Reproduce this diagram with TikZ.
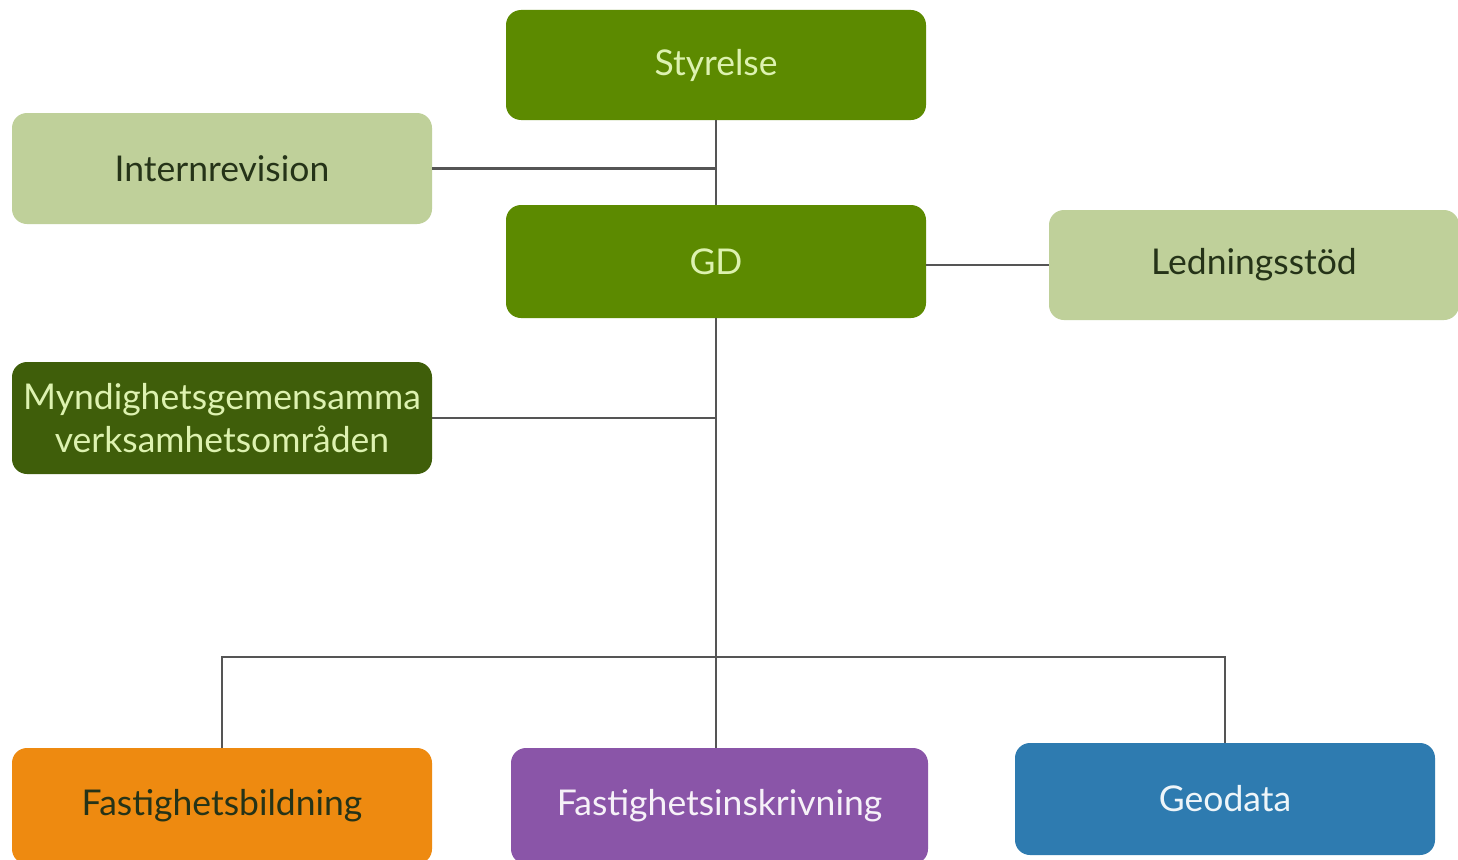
\documentclass[tikz,border=0pt]{standalone}
\usepackage{fontspec}
\setmainfont{Lato}
\definecolor{midgreen}{HTML}{5C8A00}
\definecolor{lightgreen}{HTML}{BFD09A}
\definecolor{darkgreen}{HTML}{3F5E0A}
\definecolor{orangebox}{HTML}{EE8A10}
\definecolor{purplebox}{HTML}{8A55A8}
\definecolor{bluebox}{HTML}{2E7BB0}
\definecolor{linegray}{HTML}{555555}
\definecolor{palegreentext}{HTML}{DDF2B0}
\definecolor{darktext}{HTML}{253318}
\tikzset{
  box/.style={rounded corners=15pt, inner sep=0pt, align=center, font=\fontsize{35.5}{43}\selectfont},
  conn/.style={draw=linegray, line width=2.8pt}
}
\begin{document}
\begin{tikzpicture}[x=1pt,y=-1pt]
\clip (0,0) rectangle (1458,859);
\fill[white] (0,0) rectangle (1458,859);
\node[box, fill=midgreen, text=palegreentext, minimum width=420pt, minimum height=110pt] (sty) at (716,65) {Styrelse};
\node[box, fill=lightgreen, text=darktext, minimum width=420pt, minimum height=111pt] (int) at (222,168.5) {Internrevision};
\node[box, fill=midgreen, text=palegreentext, minimum width=420pt, minimum height=113pt] (gd) at (716,261.5) {GD};
\node[box, fill=lightgreen, text=darktext, minimum width=410pt, minimum height=110pt] (led) at (1254,265) {Ledningsstöd};
\node[box, fill=darkgreen, text=palegreentext, minimum width=420pt, minimum height=112pt] (myn) at (222,418) {Myndighetsgemensamma\\verksamhetsområden};
\node[box, fill=orangebox, text=darktext, minimum width=420pt, minimum height=116pt] (fb) at (222,806) {Fastighetsbildning};
\node[box, fill=purplebox, text=white!92!purplebox, minimum width=417pt, minimum height=116pt] (fi) at (719.5,806) {Fastighetsinskrivning};
\node[box, fill=bluebox, text=white!92!bluebox, minimum width=420pt, minimum height=112pt] (geo) at (1225,799) {Geodata};
\coordinate (bus) at (716,657);
\draw[conn] (sty.south) -- (gd.north);
\draw[conn] (int.east) -- (int.east -| sty.south);
\draw[conn] (led.west -| gd.east) -- (led.west);
\draw[conn] (gd.south) -- (gd.south |- fi.north);
\draw[conn] (myn.east) -- (myn.east -| gd.south);
\draw[conn] (fb.north) |- (bus) -| (geo.north);
\end{tikzpicture}
\end{document}
